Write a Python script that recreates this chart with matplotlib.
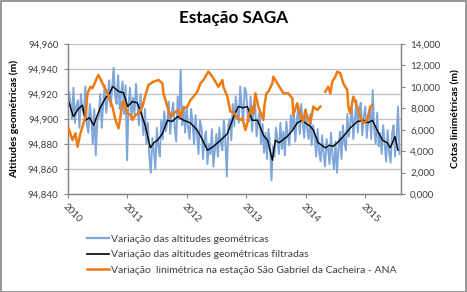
import numpy as np
import matplotlib
matplotlib.use("Agg")
import matplotlib.pyplot as plt
from matplotlib.lines import Line2D
from matplotlib.patches import Rectangle
from matplotlib.ticker import FixedLocator, FuncFormatter

plt.rcParams['font.family'] = ['Lato', 'DejaVu Sans']

# ---------------- data ----------------
title = "Estação SAGA"
ylabel_left = "Altitudes geométricas (m)"
ylabel_right = "Cotas linimétricas (m)"
legend_labels = ["Variação das altitudes geométricas",
                 "Variação das altitudes geométricas filtradas",
                 "Variação  linimétrica na estação São Gabriel da Cacheira - ANA"]
year_ticks = [2010, 2011, 2012, 2013, 2014, 2015]

# geometric altitudes (m), sampled every 0.025 yr starting 2010.0
blue_start = 2010.0
blue_step = 0.025
blue_vals = [
    # 2010
    94.905, 94.922, 94.913, 94.900, 94.925, 94.897, 94.910, 94.915, 94.893, 94.920,
    94.908, 94.903, 94.926, 94.896, 94.889, 94.912, 94.901, 94.880, 94.908, 94.871,
    94.899, 94.902, 94.920, 94.893, 94.913, 94.927, 94.905, 94.918, 94.931, 94.910,
    94.925, 94.941, 94.918, 94.912, 94.935, 94.908, 94.921, 94.930, 94.904, 94.927,
    # 2011
    94.867, 94.912, 94.925, 94.900, 94.917, 94.904, 94.928, 94.911, 94.895, 94.920,
    94.902, 94.887, 94.908, 94.880, 94.897, 94.870, 94.857, 94.885, 94.875, 94.860,
    94.893, 94.878, 94.870, 94.899, 94.884, 94.906, 94.890, 94.897, 94.914, 94.888,
    94.905, 94.913, 94.893, 94.882, 94.918, 94.900, 94.939, 94.895, 94.910, 94.889,
    # 2012
    94.910, 94.893, 94.884, 94.908, 94.897, 94.880, 94.903, 94.887, 94.872, 94.899,
    94.893, 94.868, 94.884, 94.890, 94.864, 94.880, 94.872, 94.892, 94.862, 94.876,
    94.888, 94.870, 94.893, 94.881, 94.875, 94.899, 94.884, 94.854, 94.895, 94.900,
    94.883, 94.912, 94.894, 94.918, 94.906, 94.897, 94.926, 94.910, 94.898, 94.925,
    # 2013
    94.922, 94.903, 94.898, 94.918, 94.890, 94.909, 94.912, 94.886, 94.898, 94.905,
    94.880, 94.896, 94.873, 94.889, 94.868, 94.892, 94.880, 94.851, 94.878, 94.870,
    94.893, 94.884, 94.872, 94.897, 94.876, 94.890, 94.871, 94.898, 94.887, 94.879,
    94.903, 94.891, 94.906, 94.882, 94.899, 94.910, 94.888, 94.912, 94.896, 94.885,
    # 2014
    94.908, 94.892, 94.884, 94.904, 94.879, 94.895, 94.886, 94.870, 94.892, 94.874,
    94.866, 94.887, 94.872, 94.862, 94.884, 94.876, 94.864, 94.889, 94.870, 94.860,
    94.882, 94.857, 94.876, 94.890, 94.868, 94.895, 94.881, 94.875, 94.904, 94.886,
    94.897, 94.910, 94.884, 94.900, 94.915, 94.889, 94.908, 94.913, 94.887, 94.902,
    # 2015
    94.910, 94.885, 94.899, 94.908, 94.884, 94.923, 94.892, 94.880, 94.905, 94.878,
    94.889, 94.872, 94.895, 94.880, 94.866, 94.891, 94.874, 94.865, 94.888, 94.895,
    94.870, 94.884, 94.910, 94.872,
]

# filtered geometric altitudes (m)
black_years = [2010.017, 2010.10, 2010.18, 2010.25, 2010.30, 2010.37, 2010.44, 2010.50,
               2010.55, 2010.64, 2010.70, 2010.76, 2010.86, 2010.94, 2011.01, 2011.09,
               2011.17, 2011.22, 2011.31, 2011.39, 2011.45, 2011.51, 2011.59, 2011.68,
               2011.76, 2011.85, 2011.95, 2012.06, 2012.18, 2012.27, 2012.35, 2012.45,
               2012.57, 2012.68, 2012.73, 2012.79, 2012.87, 2012.95, 2013.02, 2013.10,
               2013.19, 2013.29, 2013.36, 2013.44, 2013.49, 2013.55, 2013.61, 2013.69,
               2013.78, 2013.86, 2013.94, 2013.99, 2014.08, 2014.13, 2014.21, 2014.33,
               2014.40, 2014.46, 2014.53, 2014.63, 2014.75, 2014.87, 2014.97, 2015.05,
               2015.12, 2015.20, 2015.29, 2015.37, 2015.42, 2015.50, 2015.55]
black_vals = [94.914, 94.902, 94.908, 94.911, 94.899, 94.901, 94.895, 94.903,
              94.909, 94.917, 94.920, 94.926, 94.922, 94.921, 94.910, 94.914,
              94.913, 94.907, 94.894, 94.877, 94.881, 94.883, 94.888, 94.899,
              94.898, 94.902, 94.899, 94.897, 94.891, 94.883, 94.875, 94.878,
              94.883, 94.888, 94.894, 94.902, 94.910, 94.909, 94.910, 94.899,
              94.899, 94.887, 94.883, 94.867, 94.883, 94.881, 94.883, 94.886,
              94.891, 94.897, 94.899, 94.897, 94.894, 94.891, 94.881, 94.877,
              94.879, 94.878, 94.881, 94.886, 94.893, 94.898, 94.899, 94.897,
              94.899, 94.891, 94.883, 94.881, 94.877, 94.886, 94.875]

# water level at São Gabriel da Cachoeira (m); NaN = gap
orange_years = [2010.017, 2010.084, 2010.134, 2010.168, 2010.218, 2010.268, 2010.302, 2010.336,
                2010.386, 2010.419, 2010.503, 2010.520, 2010.587, 2010.671, 2010.755, 2010.805,
                2010.856, 2010.889, 2010.923, 2010.973, 2011.007, 2011.057, 2011.091, 2011.141,
                2011.191, 2011.258, 2011.309, 2011.359, 2011.443, 2011.527, 2011.594, 2011.611,
                2011.678, 2011.728, 2011.779, 2011.862, 2011.896, 2011.946, 2012.013, 2012.064,
                2012.114, 2012.181, 2012.232, 2012.282, 2012.349, 2012.366, 2012.433, 2012.483,
                2012.534, 2012.601, 2012.617, 2012.685, 2012.735, 2012.785, 2012.852, 2012.903,
                2012.936, 2012.987, 2013.020, 2013.037, 2013.104, 2013.121, 2013.154, 2013.205,
                2013.289, 2013.305, 2013.339, 2013.372, 2013.440, 2013.456, 2013.523, 2013.574,
                2013.624, 2013.708, 2013.775, 2013.792, 2013.859, 2013.909, 2013.960, 2013.993,
                2014.027, 2014.077, 2014.128, 2014.195, 2014.245, 2014.290, 2014.329, 2014.379,
                2014.413, 2014.446, 2014.497, 2014.530, 2014.581, 2014.631, 2014.698, 2014.715,
                2014.748, 2014.799, 2014.866, 2014.916, 2014.966, 2015.034, 2015.084, 2015.117]
orange_vals = [6.13, 5.04, 5.67, 4.41, 5.67, 6.60, 7.21, 9.40,
               10.01, 9.87, 10.95, 11.11, 10.33, 9.40, 8.15, 6.91,
               6.13, 7.21, 8.61, 8.15, 7.53, 7.37, 6.91, 7.37,
               7.53, 8.15, 9.24, 10.17, 10.48, 10.64, 10.33, 9.40,
               8.15, 7.21, 7.53, 7.84, 7.21, 8.00, 8.15, 8.77,
               9.08, 9.55, 10.33, 10.64, 11.27, 11.42, 10.95, 10.48,
               10.01, 10.64, 10.01, 9.08, 7.68, 7.68, 7.07, 6.91,
               7.07, 5.97, 6.60, 7.21, 8.15, 7.53, 9.40, 8.15,
               6.91, 8.15, 9.40, 9.55, 10.33, 10.95, 10.33, 9.87,
               9.40, 9.40, 8.93, 7.37, 8.47, 7.37, 6.75, 7.84,
               7.21, 6.60, 8.15, 7.84, 8.15, np.nan, 9.55, 10.01,
               9.40, 10.48, 10.95, 11.42, 11.27, 10.33, 9.71, 8.15,
               7.53, 9.08, 8.15, 7.21, 6.60, 6.91, 8.15, 8.31]

# ---------------- figure ----------------
W, H = 467, 292
fig = plt.figure(figsize=(W / 100, H / 100), dpi=100)
fig.patch.set_facecolor('white')

left, right, top, bottom = 67.5, 401, 44, 194
ax = fig.add_axes([left / W, 1 - bottom / H, (right - left) / W, (bottom - top) / H])
ax2 = ax.twinx()

blue_years = blue_start + blue_step * np.arange(len(blue_vals))
ax.plot(blue_years, blue_vals, color='#7EA6D8', lw=1.4, zorder=2)
ax.plot(black_years, black_vals, color='black', lw=1.0, zorder=3)
ax2.plot(orange_years, orange_vals, color='#EE7A12', lw=1.8, zorder=4)

gray = '#868686'
txt = '#404040'

ax.set_xlim(2010.0, 2015.6)
ax.set_ylim(94.840, 94.960)
ax2.set_ylim(0, 14)
ax.yaxis.set_major_locator(FixedLocator(np.round(np.arange(94.840, 94.9601, 0.02), 3)))
ax2.yaxis.set_major_locator(FixedLocator(np.arange(0, 14.1, 2)))
ax.yaxis.set_major_formatter(FuncFormatter(lambda v, p: f"{v:.3f}".replace('.', ',')))
ax2.yaxis.set_major_formatter(FuncFormatter(lambda v, p: f"{v:.3f}".replace('.', ',')))
ax.set_xticks(year_ticks)
ax.set_xticklabels([str(y) for y in year_ticks], rotation=-45, ha='left', va='top',
                   rotation_mode='anchor')

ax.grid(axis='y', color='#C0C0C0', lw=0.9)
ax.set_axisbelow(True)
for a in (ax, ax2):
    a.spines['top'].set_visible(False)
    for s in ('left', 'right', 'bottom'):
        a.spines[s].set_color(gray)
        a.spines[s].set_linewidth(0.9)
    a.tick_params(colors=gray, labelcolor=txt, labelsize=7, length=3, width=0.8)
ax2.patch.set_visible(False)
ax.tick_params(axis='x', pad=3)

ax.set_ylabel(ylabel_left, fontsize=7.5, fontweight='bold', color='black', labelpad=6)
ax2.set_ylabel(ylabel_right, fontsize=7.5, fontweight='bold', color='black', labelpad=8)

fig.text(0.5, 1 - 18 / H, title, ha='center', va='center', fontsize=12.3,
         fontweight='bold', color='black')

handles = [Line2D([], [], color='#7EA6D8', lw=1.6),
           Line2D([], [], color='black', lw=1.2),
           Line2D([], [], color='#EE7A12', lw=1.8)]
fig.legend(handles, legend_labels, loc='upper left',
           bbox_to_anchor=(82 / W, 1 - 229 / H), frameon=False, fontsize=7.5,
           handlelength=2.1, handletextpad=0.15, labelspacing=0.62, borderpad=0,
           labelcolor=txt)

fig.add_artist(Rectangle((0.5 / W, 0.5 / H), 1 - 1.5 / W, 1 - 1.5 / H,
                         transform=fig.transFigure, fill=False, ec=gray, lw=1.2))

fig.savefig('out.png', dpi=100, facecolor='white')
